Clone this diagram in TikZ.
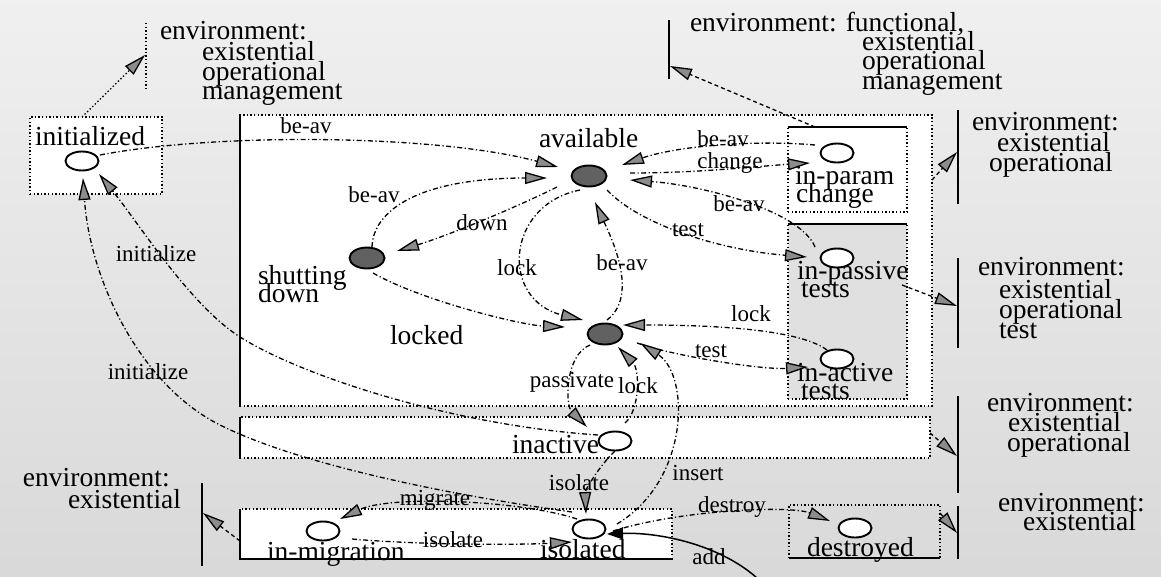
\documentclass[tikz,border=0pt]{standalone}
\usepackage{fontspec}
\setmainfont{Liberation Serif}
\usetikzlibrary{arrows.meta,shapes.geometric,calc}
\begin{document}
\begin{tikzpicture}[x=1pt,y=-1pt,
  every node/.style={inner sep=0pt,outer sep=0pt},
  sname/.style={font=\fontsize{27.5}{20}\selectfont,anchor=base west},
  etext/.style={font=\fontsize{27.5}{20}\selectfont,anchor=base west},
  elabel/.style={font=\fontsize{23}{20}\selectfont,anchor=base},
  boxframe/.style={rectangle,draw,line width=1.4pt,dash pattern=on 1.4pt off 2.2pt,fill=white},
  solidedge/.style={line width=1.2pt},
  openstate/.style={ellipse,draw,line width=1.9pt,fill=white,minimum width=33pt,minimum height=19pt},
  busystate/.style={ellipse,draw,line width=1.9pt,fill=black!62,minimum width=35pt,minimum height=21pt},
  flow/.style={line width=1.3pt,dash pattern=on 5pt off 2.5pt on 1.2pt off 2.5pt,
    -{Triangle[length=22pt,width=12pt,fill=black!45]}},
  envflow/.style={line width=1.3pt,dash pattern=on 4pt off 3pt,
    -{Triangle[length=22pt,width=12pt,fill=black!45]}},
  envbar/.style={line width=1.3pt},
  addflow/.style={line width=1.5pt,-{Triangle[length=16pt,width=12pt]}},
]
% paper
\shade[top color=black!6,bottom color=black!15] (0,0) rectangle (1161,576);
\useasboundingbox (0,0) rectangle (1161,576);

% state groups
\node[boxframe,minimum width=692pt,minimum height=291pt] (mainbox) at (586,260.5) {};
\node[boxframe,minimum width=690pt,minimum height=41pt] (inactbox) at (585,437.5) {};
\node[boxframe,minimum width=432pt,minimum height=50pt] (isolbox) at (456,534) {};
\node[boxframe,minimum width=132pt,minimum height=77pt] (initbox) at (96,155.5) {};
\node[boxframe,minimum width=119pt,minimum height=85pt] (parambox) at (847.5,169.5) {};
\node[boxframe,fill=black!12,minimum width=119pt,minimum height=175pt] (testbox) at (847.5,311.5) {};
\node[boxframe,fill=black!14,minimum width=151pt,minimum height=53pt] (destrbox) at (864.5,531.5) {};
\draw[solidedge] (mainbox.north west) -- (mainbox.south west);
\draw[solidedge] (inactbox.north west) -- (inactbox.south west);
\draw[solidedge] (isolbox.north west) -- (isolbox.south west) -- (isolbox.south east);
\draw[solidedge] (parambox.north west) -- (parambox.north east);
\draw[solidedge] (testbox.north west) -- (testbox.north east);
\draw[solidedge] (destrbox.south west) -- (destrbox.south east);

% environment bars
\draw[envbar,dash pattern=on 1.4pt off 2.2pt] (146,23) -- (146,90);
\draw[envbar] (669,20) -- (669,79);
\draw[envbar] (958,110) -- (958,204);
\draw[envbar] (958,258) -- (958,348);
\draw[envbar] (958,396) -- (958,493);
\draw[envbar] (958,506) -- (958,559);
\draw[envbar] (202,483) -- (202,566);
\coordinate (envTL) at (145,55);
\coordinate (envTR) at (670,66);
\coordinate (envR2) at (957,152);
\coordinate (envR3) at (957,306);
\coordinate (envR4) at (957,456);
\coordinate (envR5) at (957,533);
\coordinate (envL) at (203,513);

% environment texts
\node[etext] (eTL1) at (160,39) {environment:};
\node[etext] (eTL2) at (202,60) {existential};
\node[etext] (eTL3) at (202,80) {operational};
\node[etext] (eTL4) at (202,99) {management};
\node[etext] (eTR1) at (690,31) {environment: functional,};
\node[etext] (eTR2) at (862,50) {existential};
\node[etext] (eTR3) at (862,69.5) {operational};
\node[etext] (eTR4) at (862,89.5) {management};
\node[etext] (eRa1) at (972,130) {environment:};
\node[etext] (eRa2) at (997,151) {existential};
\node[etext] (eRa3) at (989,171) {operational};
\node[etext] (eRb1) at (978,275) {environment:};
\node[etext] (eRb2) at (999,298) {existential};
\node[etext] (eRb3) at (999,318) {operational};
\node[etext] (eRb4) at (999,338) {test};
\node[etext] (eRc1) at (987,411) {environment:};
\node[etext] (eRc2) at (1008,431) {existential};
\node[etext] (eRc3) at (1007,451) {operational};
\node[etext] (eRd1) at (998,511) {environment:};
\node[etext] (eRd2) at (1023,530) {existential};
\node[etext] (eL1) at (23,486) {environment:};
\node[etext] (eL2) at (68,508) {existential};

% state names
\node[sname] (initT) at (35,145) {initialized};
\node[sname] (availT) at (539,147) {available};
\node[sname] (paramT1) at (795,184) {in-param};
\node[sname] (paramT2) at (796,202) {change};
\node[sname] (passT1) at (797,279) {in-passive};
\node[sname] (passT2) at (801,297) {tests};
\node[sname] (actT1) at (797,381) {in-active};
\node[sname] (actT2) at (801,399) {tests};
\node[sname] (shutT1) at (258,284) {shutting};
\node[sname] (shutT2) at (258,302) {down};
\node[sname] (lockedT) at (390,344) {locked};
\node[sname] (inactT) at (512,453) {inactive};
\node[sname] (migrT) at (267,560) {in-migration};
\node[sname] (isolT) at (540,558) {isolated};
\node[sname] (destrT) at (807,556) {destroyed};

% states
\node[openstate] (init) at (82,161) {};
\node[busystate] (avail) at (589,176) {};
\node[busystate] (shut) at (367,258) {};
\node[busystate] (locked) at (605,334) {};
\node[openstate] (param) at (837,153) {};
\node[openstate] (passive) at (837,258) {};
\node[openstate] (active) at (837,359) {};
\node[openstate] (inactive) at (615,441) {};
\node[openstate] (migr) at (323,531) {};
\node[openstate] (isol) at (589,529) {};
\node[openstate] (destr) at (855,528) {};

% transitions
\draw[flow] ($(init)+(18,-6)$) .. controls +(120,-23) and +(-118,-32) .. ($(avail)+(-31,-9)$);
\draw[flow] ($(shut)+(5,-11)$) .. controls +(1,-37) and +(-127,0) .. ($(avail)+(-42,2)$);
\draw[flow] ($(avail)+(-32,11)$) .. controls +(-40,20) and +(50,-15) .. ($(shut)+(30,-7)$);
\draw[flow] ($(avail)+(-9,14)$) .. controls +(-75,15) and +(-83,-20) .. ($(locked)+(-22,-14)$);
\draw[flow] ($(locked)+(2,-14)$) .. controls +(33,-25) and +(15,33) .. ($(avail)+(6,26)$);
\draw[flow] ($(avail)+(18,14)$) .. controls +(33,35) and +(-87,-7) .. ($(passive)+(-30,-1)$);
\draw[flow] ($(passive)+(-22,-11)$) .. controls +(-15,-37) and +(70,5) .. ($(avail)+(41,4)$);
\draw[flow] ($(param)+(-22,-8)$) .. controls +(-55,-5) and +(58,-20) .. ($(avail)+(33,-11)$);
\draw[flow] ($(avail)+(41,-3)$) .. controls +(70,0) and +(-50,3) .. ($(param)+(-27,10)$);
\draw[flow] ($(active)+(-10,-9)$) .. controls +(-27,-20) and +(97,0) .. ($(locked)+(18,-9)$);
\draw[flow] ($(locked)+(32,9)$) .. controls +(33,12) and +(-48,3) .. ($(active)+(-29,8)$);
\draw[flow] ($(shut)+(6,15)$) .. controls +(47,27) and +(-45,-2) .. ($(locked)+(-40,-7)$);
\draw[flow] ($(locked)+(-15,11)$) .. controls +(-25,10) and +(-22,-22) .. ($(inactive)+(-28,-14)$);
\draw[flow] ($(inactive)+(10,-18)$) .. controls +(15,-13) and +(22,23) .. ($(locked)+(13,13)$);
\draw[flow] ($(isol)+(28,-5)$) .. controls +(73,-44) and +(50,32) .. ($(locked)+(35,9)$);
\draw[flow] ($(inactive)+(0,10)$) .. controls +(-15,14) and +(-1,-24) .. ($(isol)+(-3,-15)$);
\draw[flow] ($(isol)+(-12,-10)$) .. controls +(-57,-19) and +(50,-24) .. ($(migr)+(17,-12)$);
\draw[flow] ($(migr)+(29,8)$) .. controls +(68,6) and +(-52,3) .. ($(isol)+(-17,13)$);
\draw[flow] ($(isol)+(24,2)$) .. controls +(67,-21) and +(-40,-16) .. ($(destr)+(-25,-7)$);
\draw[flow] ($(inactive)+(-17,-6)$) .. controls +(-148,-10) and +(60,38) .. (240,337)
  .. controls +(-50,-32) and +(41,51) .. ($(init)+(17,13)$);
\draw[flow] ($(isol)+(-17,-17)$) .. controls +(-122,-17) and +(80,40) .. (220,425)
  .. controls +(-80,-40) and +(7,102) .. ($(init)+(1,17)$);
\coordinate (addsrc) at (757,578);
\draw[addflow] (addsrc) .. controls +(-37,-33) and +(53,-2) .. ($(isol)+(18,5)$);

% links to environments
\draw[envflow,dash pattern=on 1.4pt off 2.2pt] ([xshift=-14pt]initbox.north) -- (envTL);
\draw[envflow] ([xshift=-32.5pt]parambox.north) -- (envTR);
\draw[envflow] ([yshift=80.5pt]mainbox.east) -- (envR2);
\draw[envflow] ($(passive)+(65,27)$) -- (envR3);
\draw[envflow] ([yshift=4.5pt]inactbox.east) -- (envR4);
\draw[envflow] ([yshift=18.5pt]destrbox.east) -- (envR5);
\draw[envflow] ([yshift=-7pt]isolbox.west) -- (envL);

% transition labels
\node[elabel] (lbA) at (306,133) {be-av};
\node[elabel] (lbB) at (374,202) {be-av};
\node[elabel] (lbC) at (482,230) {down};
\node[elabel] (lbD) at (517,275) {lock};
\node[elabel] (lbE) at (622,270) {be-av};
\node[elabel] (lbF) at (688,236) {test};
\node[elabel] (lbG) at (739,211) {be-av};
\node[elabel] (lbH) at (723,146) {be-av};
\node[elabel] (lbI) at (730,168) {change};
\node[elabel] (lbJ) at (751,321) {lock};
\node[elabel] (lbK) at (711,357) {test};
\node[elabel] (lbL) at (572,387) {passivate};
\node[elabel] (lbM) at (638,393) {lock};
\node[elabel] (lbN) at (579,490) {isolate};
\node[elabel] (lbO) at (698,480) {insert};
\node[elabel] (lbP) at (435,505) {migrate};
\node[elabel] (lbQ) at (453,547) {isolate};
\node[elabel] (lbR) at (732,512) {destroy};
\node[elabel] (lbS) at (709,564) {add};
\node[elabel] (lbT) at (156,261) {initialize};
\node[elabel] (lbU) at (148,379) {initialize};
\end{tikzpicture}
\end{document}
